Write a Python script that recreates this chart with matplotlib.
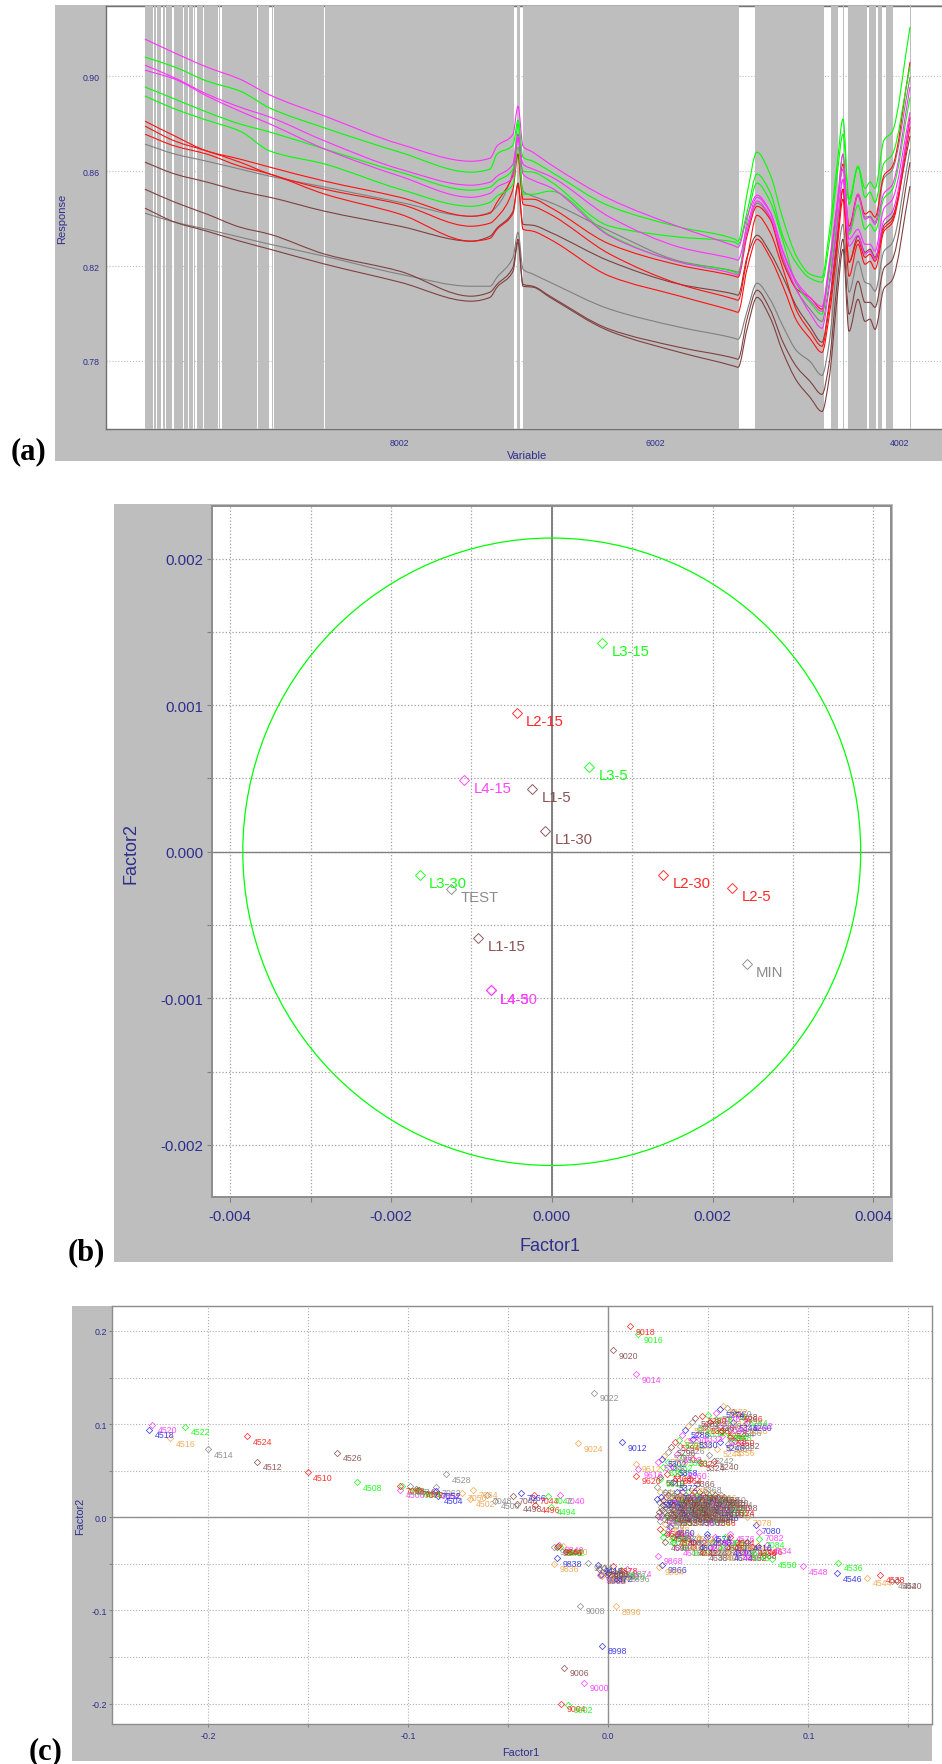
import matplotlib
matplotlib.use("Agg")
import numpy as np
import matplotlib.pyplot as plt
from matplotlib.patches import Rectangle, Ellipse, PathPatch
from matplotlib.path import Path

plt.rcParams['font.family'] = ['Liberation Sans', 'DejaVu Sans']

W, H = 942, 1765
NAVY = '#2E2E8E'
PANEL = '#BEBEBE'
GREEN, RED, BROWN, GRAY, ORANGE, BLUE, MAGENTA = '#00FF00', '#FF1010', '#804040', '#808080', '#F0A040', '#2020E0', '#FF30FF'

# ---------- panel (a): spectra ----------
CHANNELS = [145,175,207,240,270,325,400,471,490,497,513,518,523,533,550,610,680,735,738,747,757,770,783,797,810,822,829,837,843,849,858,865,870,875,884,892,910]
M1 = [.9157,.9098,.9039,.8988,.8921,.8832,.8714,.8642,.8655,.8706,.8756,.8874,.8706,.8680,.8630,.8482,.8364,.8284,.8279,.8406,.8499,.8431,.8263,.8132,.8068,.8030,.8208,.8461,.8672,.8347,.8503,.8398,.8406,.8376,.8507,.8541,.8955]
G1 = [.9081,.9039,.8980,.8938,.8866,.8782,.8680,.8596,.8609,.8672,.8710,.8815,.8659,.8642,.8600,.8452,.8364,.8313,.8305,.8503,.8680,.8588,.8398,.8237,.8166,.8153,.8334,.8621,.8820,.8482,.8621,.8528,.8554,.8528,.8731,.8765,.9208]
M2 = [.9047,.8993,.8925,.8870,.8828,.8727,.8609,.8541,.8554,.8579,.8630,.8756,.8630,.8609,.8579,.8406,.8279,.8229,.8225,.8368,.8490,.8427,.8258,.8123,.8056,.8009,.8187,.8431,.8609,.8313,.8355,.8292,.8292,.8263,.8444,.8478,.8849]
M3 = [.9026,.8988,.8917,.8853,.8799,.8693,.8579,.8490,.8507,.8533,.8575,.8735,.8588,.8562,.8533,.8326,.8216,.8166,.8161,.8347,.8474,.8410,.8237,.8098,.8001,.7938,.8102,.8355,.8566,.8284,.8330,.8250,.8263,.8229,.8393,.8427,.8811]
G2 = [.8955,.8904,.8849,.8799,.8765,.8693,.8596,.8520,.8533,.8558,.8609,.8799,.8600,.8596,.8558,.8368,.8322,.8301,.8292,.8427,.8588,.8512,.8326,.8208,.8149,.8132,.8292,.8579,.8756,.8461,.8617,.8490,.8512,.8469,.8634,.8668,.9043]
G3 = [.8917,.8862,.8815,.8769,.8685,.8630,.8524,.8452,.8469,.8495,.8545,.8701,.8503,.8503,.8516,.8330,.8216,.8174,.8166,.8389,.8550,.8474,.8305,.8119,.8047,.7997,.8166,.8419,.8672,.8334,.8457,.8355,.8376,.8347,.8486,.8520,.8912]
R1 = [.8811,.8748,.8685,.8651,.8617,.8558,.8490,.8410,.8423,.8469,.8583,.8672,.8482,.8482,.8448,.8292,.8203,.8157,.8153,.8326,.8452,.8398,.8216,.8102,.8068,.8018,.8187,.8452,.8630,.8368,.8503,.8419,.8431,.8406,.8583,.8617,.9060]
R2 = [.8790,.8727,.8685,.8638,.8588,.8524,.8461,.8368,.8381,.8406,.8524,.8672,.8461,.8452,.8419,.8250,.8123,.8060,.8056,.8229,.8414,.8343,.8187,.8009,.7925,.7862,.8018,.8292,.8524,.8216,.8309,.8237,.8250,.8220,.8360,.8393,.8828]
R3 = [.8756,.8706,.8672,.8621,.8588,.8503,.8419,.8305,.8317,.8355,.8423,.8541,.8355,.8347,.8313,.8157,.8073,.8009,.8005,.8187,.8313,.8237,.8115,.7967,.7895,.7836,.7984,.8263,.8482,.8157,.8292,.8208,.8220,.8187,.8347,.8381,.8786]
GY1 = [.8714,.8672,.8642,.8609,.8579,.8533,.8469,.8410,.8427,.8452,.8600,.8744,.8516,.8495,.8469,.8347,.8220,.8178,.8174,.8343,.8465,.8406,.8229,.8094,.8018,.7967,.8123,.8376,.8566,.8355,.8495,.8406,.8410,.8385,.8571,.8604,.8997]
BR1 = [.8638,.8588,.8554,.8516,.8490,.8431,.8368,.8305,.8326,.8360,.8431,.8550,.8376,.8372,.8343,.8220,.8123,.8081,.8077,.8237,.8330,.8258,.8153,.8026,.7946,.7879,.8039,.8313,.8524,.8216,.8326,.8258,.8271,.8237,.8372,.8406,.8748]
GY2 = [.8423,.8385,.8355,.8322,.8292,.8241,.8166,.8115,.8115,.8153,.8237,.8343,.8187,.8166,.8132,.8018,.7942,.7895,.7891,.8009,.8128,.8060,.7946,.7841,.7798,.7739,.7870,.8208,.8376,.8090,.8220,.8132,.8123,.8094,.8263,.8296,.8693]
BR2 = [.8524,.8469,.8419,.8364,.8334,.8250,.8178,.8073,.8090,.8123,.8195,.8313,.8123,.8115,.8073,.7933,.7857,.7811,.7807,.7976,.8098,.8018,.7879,.7773,.7714,.7659,.7786,.8123,.8313,.7997,.8136,.8047,.8047,.8026,.8191,.8225,.8638]
BR3 = [.8444,.8385,.8347,.8305,.8271,.8208,.8132,.8052,.8068,.8111,.8178,.8301,.8115,.8111,.8068,.7925,.7836,.7777,.7773,.7933,.8068,.7984,.7836,.7714,.7647,.7587,.7722,.8060,.8271,.7925,.8060,.7967,.7976,.7933,.8106,.8140,.8537]
SPECTRA = [(GY2, GRAY), (BR3, BROWN), (BR2, BROWN), (BR1, BROWN), (GY1, GRAY), (R3, RED), (R2, RED), (R1, RED),
           (G3, GREEN), (G2, GREEN), (M3, MAGENTA), (M2, MAGENTA), (G1, GREEN), (M1, MAGENTA)]
VAR_TICKS = [399, 655, 900]
VAR_LABELS = ['8002', '6002', '4002']
RESP_TICKS = [0.78, 0.82, 0.86, 0.90]
BAND_START, BAND_END = 145, 911
STRIPES = [(153,154.3),(156,157),(161.3,162.7),(165,166),(172,173.7),(183.3,184),(188.3,189.3),(193,194),(195,196.7),
           (203.3,204),(211.7,212.3),(218,219.3),(220,222),(257.3,258),(269,271.7),(272.7,274),(287.5,288.3),(324.3,325),
           (514.3,516.7),(520.3,523),(739.3,755),(823.7,831.3),(838.3,842.7),(844.3,847.7),(867,868.7),(876,878.3),(882,886),(892.7,909.7)]

# ---------- panel (b): loadings ----------
B_NAMES = ['L3-15','L2-15','L3-5','L4-15','L1-5','L1-30','L3-30','TEST','L2-30','L2-5','L1-15','MIN','L4-5','L4-30']
B_X = [.000630,-.000435,.000464,-.00109,-.000245,-.000083,-.00164,-.00125,.001384,.002247,-.000913,.002425,-.000759,-.000759]
B_Y = [.001426,.00095,.000581,.000487,.000428,.000143,-.000157,-.000254,-.000157,-.000247,-.000588,-.000765,-.000946,-.000946]
B_COLORS = [GREEN,RED,GREEN,MAGENTA,BROWN,BROWN,GREEN,GRAY,RED,RED,BROWN,GRAY,MAGENTA,MAGENTA]
ELLIPSE_SEMI_X, ELLIPSE_SEMI_Y = 0.003843, 0.00214

# ---------- panel (c): scores ----------
CYCLE = [GREEN, RED, BROWN, GRAY, ORANGE, BLUE, MAGENTA]
OUT_IDS = [4520,4518,4522,4516,4514,4524,4512,4510,4526,4508,4528,4506,7056,7058,7034,7060,7070,7072,7054,7062,4504,7052,
           7064,7050,4502,4500,7048,7046,7066,4498,4496,7044,7042,7040,4494,
           9018,9016,9020,9014,9022,9012,9024,4536,4546,4548,4550,4544,4538,4542,4540,7076,7078,7080,7082,7084,7086,4534,4552,7088,
           9868,9866,9864,9838,9836,9848,9840,9850,9846,9842,9844,9834,9418,8878,8874,8876,8882,8896,9908,9910,9906,9904,8870,8872,8868,8880,8866,
           8996,9008,8998,9006,9000,9004,9002,9612,9616,9620,9618]
OUT_X = [-.2280,-.2295,-.2117,-.2191,-.2000,-.1806,-.1755,-.1503,-.1357,-.1256,-.0811,-.1040,-.1032,-.1042,-.0990,-.0961,-.0953,-.0945,-.0869,-.0863,-.0853,-.0861,
         -.0675,-.0733,-.0693,-.0566,-.0605,-.0475,-.0436,-.0458,-.0366,-.0370,-.0300,-.0242,-.0288,
         .0108,.0150,.0024,.0138,-.0071,.0067,-.0150,.1150,.1145,.0973,.0816,.1293,.1358,.1416,.1441,.0608,.0692,.0737,.0753,.0755,.0747,.0791,.0667,.0717,
         .0248,.0267,.0254,-.0255,-.0273,-.0270,-.0245,-.0225,-.0255,-.0240,-.0250,-.0100,-.0053,.0022,.0092,.0062,.0035,.0082,-.0036,-.0042,-.0030,-.0038,-.0010,.0000,.0015,-.0045,-.0020,
         .0038,-.0143,-.0033,-.0222,-.0122,-.0238,-.0203,.0138,.0150,.0138,.0258]
OUT_Y = [.0991,.0941,.0973,.0848,.0730,.0869,.0597,.0483,.0694,.0376,.0464,.0297,.0333,.0340,.0333,.0304,.0293,.0293,.0286,.0322,.0232,.0286,
         .0296,.0261,.0197,.0178,.0239,.0232,.0264,.0143,.0135,.0239,.0232,.0239,.0114,
         .2049,.1966,.1795,.1534,.1337,.0807,.0797,-.0490,-.0601,-.0526,-.0448,-.0651,-.0616,-.0680,-.0680,.0082,.0000,-.0083,-.0162,-.0234,-.0312,-.0298,-.0376,-.0358,
         -.0412,-.0509,-.0530,-.0440,-.0498,-.0315,-.0297,-.0312,-.0322,-.0320,-.0310,-.0490,-.0512,-.0519,-.0554,-.0570,-.0585,-.0608,-.0622,-.0615,-.0628,-.0610,-.0590,-.0600,-.0565,-.0560,-.0545,
         -.0955,-.0948,-.1377,-.1617,-.1778,-.2000,-.2010,.0572,.0518,.0447,.0411]
LOOP_START_ID = 5240
LOOP_X = [.0528,.0505,.0542,.0558,.0567,.0563,.0567,.0608,.0642,.0675,.0692,.0700,.0675,.0650,.0625,.0595,.0575,.0558,.0538,.0500,.0467,.0433,.0417,.0400,.0383,.0367,.0355,.0333,.0312,.0300,.0278,.0267,.0250,.0275,.0292,.0258,.0242,.0258,.0242,
          .0342,.0375,.0425,.0458,.0358,.0392,.0425,.0450,.0458,.0483,.0508,.0542,.0592,.0625,.0575,.0595,.0608,.0633,.0600,.0608,.0325,.0367,.0300,.0342,.0408,.0442,.0375,.0325]
LOOP_Y = [.0604,.0668,.0733,.0805,.0869,.0912,.0930,.0948,.0965,.0983,.1012,.1037,.1073,.1109,.1134,.1169,.1191,.1162,.1119,.1098,.1091,.1062,.1019,.0983,.0940,.0883,.0833,.0805,.0751,.0697,.0654,.0626,.0590,.0536,.0465,.0429,.0322,.0268,.0196,
          .0679,.0643,.0626,.0590,.0769,.0822,.0840,.0894,.0948,.0983,.1019,.1037,.1055,.1019,.1001,.0912,.0858,.0822,.0787,.0751,.0536,.0500,.0590,.0447,.0411,.0357,.0339,.0375]
ARM_START_ID = 4554
ARM_ROWS = {
    .0018: [.0250], -.0036: [.0258], -.0072: [.0283], -.0107: [.0308], -.0143: [.0300], -.0161: [.0275], -.0125: [.0258],
    -.0179: [.0292,.0342,.0408,.0492,.0608],
    -.0215: [.0275,.0325,.0367,.0408,.0450,.0492,.0533,.0583,.0608],
    -.0269: [.0283,.0325,.0375,.0425,.0475,.0517,.0558,.0600,.0642,.0667,.0692],
    -.0322: [.0342,.0383,.0425,.0467,.0508,.0550,.0592,.0633,.0675,.0717],
    -.0376: [.0475,.0517,.0558,.0600,.0642,.0683],
}
BLOB_START_ID = 7230
BLOB_ROWS = {
    .0268: [.0283,.0310,.0345,.0370,.0400,.0428,.0455,.0490,.0520],
    .0214: [.0262,.0290,.0318,.0342,.0375,.0398,.0430,.0458,.0482,.0515,.0548,.0580],
    .0161: [.0255,.0282,.0308,.0335,.0360,.0388,.0412,.0440,.0465,.0495,.0520,.0552,.0590,.0625],
    .0107: [.0262,.0288,.0315,.0345,.0368,.0395,.0420,.0450,.0478,.0505,.0535,.0570,.0610],
    .0053: [.0255,.0280,.0310,.0335,.0362,.0385,.0415,.0442,.0470,.0500,.0528],
    .0000: [.0265,.0295,.0325,.0350,.0380,.0405,.0435,.0460,.0490,.0515],
}
# points drawn last in the blob: their labels are the brown and gray ones on top
BLOB_TOP_BROWN_START, BLOB_TOP_GRAY_START, BLOB_TOP_STEP = 7102, 7104, 14
BLOB_TOP_ROWS = {
    .0241: [.0300,.0330,.0360,.0390,.0420,.0445,.0475,.0505,.0535,.0565],
    .0188: [.0275,.0305,.0330,.0362,.0390,.0420,.0445,.0470,.0500,.0535,.0565,.0600],
    .0134: [.0272,.0298,.0325,.0350,.0378,.0400,.0430,.0455,.0485,.0510,.0540,.0575],
    .0080: [.0270,.0300,.0328,.0355,.0380,.0408,.0435,.0462,.0492,.0520,.0555],
    .0027: [.0268,.0292,.0322,.0350,.0375,.0400,.0428,.0455,.0485,.0512],
}


def box(x0, y0, x1, y1):
    return [x0 / W, 1 - y1 / H, (x1 - x0) / W, (y1 - y0) / H]


def ftext(x, y, s, **kw):
    kw.setdefault('ha', 'center')
    kw.setdefault('va', 'center')
    fig.text(x / W, 1 - y / H, s, **kw)


def panel(x0, y0, x1, y1):
    fig.add_artist(Rectangle((x0 / W, 1 - y1 / H), (x1 - x0) / W, (y1 - y0) / H,
                             transform=fig.transFigure, facecolor=PANEL, edgecolor='none', zorder=-5))


def curve_through(x, y):
    """Bezier path through the read values, with slopes limited so that peaks stay where they were read."""
    x = np.asarray(x, float)
    y = np.asarray(y, float)
    h = np.diff(x)
    s = np.diff(y) / h
    m = np.zeros_like(x)
    m[0], m[-1] = s[0], s[-1]
    for i in range(1, len(x) - 1):
        if s[i - 1] * s[i] > 0:
            w1, w2 = 2 * h[i] + h[i - 1], h[i] + 2 * h[i - 1]
            m[i] = (w1 + w2) / (w1 / s[i - 1] + w2 / s[i])
    verts = [(x[0], y[0])]
    codes = [Path.MOVETO]
    for i in range(len(h)):
        verts += [(x[i] + h[i] / 3, y[i] + m[i] * h[i] / 3),
                  (x[i + 1] - h[i] / 3, y[i + 1] - m[i + 1] * h[i] / 3),
                  (x[i + 1], y[i + 1])]
        codes += [Path.CURVE4] * 3
    return Path(verts, codes)


fig = plt.figure(figsize=(W / 100, H / 100), dpi=100, facecolor='white')

# ----- (a) -----
panel(55, 6, 942, 462)
axa = fig.add_axes(box(106, 7.3, 942, 430))
axa.set_xlim(106, 942)
axa.set_ylim(0.7513, 0.92954)
edges = [BAND_START] + [e for s in STRIPES for e in s] + [BAND_END]
for a, b in zip(edges[0::2], edges[1::2]):
    axa.axvspan(a, b, facecolor=PANEL, edgecolor='none', zorder=3)
for vals, col in SPECTRA:
    axa.add_patch(PathPatch(curve_through(CHANNELS, vals), fill=False, edgecolor=col, lw=0.8, zorder=4))
axa.set_yticks(RESP_TICKS, [f'{v:.2f}' for v in RESP_TICKS])
axa.set_xticks(VAR_TICKS, VAR_LABELS)
axa.tick_params(axis='both', length=0, labelsize=6.3, labelcolor=NAVY)
axa.tick_params(axis='y', pad=4.3)
axa.tick_params(axis='x', pad=6.3)
axa.yaxis.grid(True, color=PANEL, ls=':', lw=0.8, zorder=1)
axa.set_axisbelow(True)
for side, sp in axa.spines.items():
    sp.set_color('#707070')
    sp.set_linewidth(1.0)
axa.spines['right'].set_visible(False)
ftext(62, 219, 'Response', rotation=90, fontsize=8, color=NAVY)
ftext(527, 456, 'Variable', fontsize=8, color=NAVY)
ftext(28, 452, '(a)', fontsize=22, fontweight='bold', family=['Liberation Serif'], color='black')

# ----- (b) -----
panel(114, 505.3, 892.7, 1263)
axb = fig.add_axes(box(211.7, 506.8, 891, 1198))
axb.set_xlim(-0.00423, 0.00422)
axb.set_ylim(-0.002355, 0.00236)
axb.set_xticks([-.004, -.003, -.002, -.001, 0, .001, .002, .003, .004],
               ['-0.004', '', '-0.002', '', '0.000', '', '0.002', '', '0.004'])
axb.set_yticks([-.002, -.0015, -.001, -.0005, 0, .0005, .001, .0015, .002],
               ['-0.002', '', '-0.001', '', '0.000', '', '0.001', '', '0.002'])
axb.tick_params(axis='both', length=3.6, width=0.8, color='#808080', labelsize=10.8, labelcolor=NAVY)
axb.tick_params(axis='y', pad=2.5)
axb.tick_params(axis='x', pad=5.0)
axb.grid(True, color='#A0A0A0', ls=':', lw=0.9)
axb.set_axisbelow(True)
axb.axhline(0, color='#808080', lw=1.0, zorder=1.5)
axb.axvline(0, color='#808080', lw=1.4, zorder=1.5)
axb.add_patch(Ellipse((0, 0), 2 * ELLIPSE_SEMI_X, 2 * ELLIPSE_SEMI_Y, fill=False, edgecolor=GREEN, lw=0.9, zorder=2))
for name, x, y, c in zip(B_NAMES, B_X, B_Y, B_COLORS):
    axb.plot([x], [y], marker='D', ms=5, mfc='none', mec=c, mew=0.7, ls='none', alpha=0.85, zorder=3)
    axb.annotate(name, (x, y), xytext=(6.7, -5.8), textcoords='offset points', ha='left', va='center',
                 fontsize=10.7, color=c, alpha=0.9, zorder=4)
for sp in axb.spines.values():
    sp.set_color('#8C8C8C')
    sp.set_linewidth(1.4)
ftext(131, 853, 'Factor2', rotation=90, fontsize=13, color=NAVY)
ftext(550, 1247, 'Factor1', fontsize=13, color=NAVY)
ftext(86, 1253, '(b)', fontsize=22, fontweight='bold', family=['Liberation Serif'], color='black')

# ----- (c) -----
panel(72, 1307, 931.7, 1761.7)
axc = fig.add_axes(box(111.7, 1307.3, 931.7, 1725))
axc.set_xlim(-0.2482, 0.1616)
axc.set_ylim(-0.2218, 0.2264)
axc.set_xticks([-.2, -.15, -.1, -.05, 0, .05, .1, .15], ['-0.2', '', '-0.1', '', '0.0', '', '0.1', ''])
axc.set_yticks([-.2, -.15, -.1, -.05, 0, .05, .1, .15, .2], ['-0.2', '', '-0.1', '', '0.0', '', '0.1', '', '0.2'])
axc.tick_params(axis='both', length=2, width=0.7, color='#808080', labelsize=6.4, labelcolor=NAVY)
axc.tick_params(axis='y', pad=1.4)
axc.tick_params(axis='x', pad=3.4)
axc.grid(True, color='#B0B0B0', ls=':', lw=0.8)
axc.set_axisbelow(True)
axc.axhline(0, color='#909090', lw=1.0, zorder=1.5)
axc.axvline(0, color='#909090', lw=1.0, zorder=1.5)

ids = list(OUT_IDS)
xs = list(OUT_X)
ys = list(OUT_Y)
for i, (x, y) in enumerate(zip(LOOP_X, LOOP_Y)):
    ids.append(LOOP_START_ID + 2 * i)
    xs.append(x)
    ys.append(y)
n = 0
for y, row in ARM_ROWS.items():
    for x in row:
        ids.append(ARM_START_ID + 2 * n)
        xs.append(x)
        ys.append(y)
        n += 1
n = 0
for y, row in BLOB_ROWS.items():
    for x in row:
        ids.append(BLOB_START_ID + 2 * n)
        xs.append(x)
        ys.append(y)
        n += 1
n = 0
for y, row in BLOB_TOP_ROWS.items():
    for x in row:
        start = BLOB_TOP_BROWN_START if n % 2 == 0 else BLOB_TOP_GRAY_START
        ids.append(start + BLOB_TOP_STEP * (n // 2))
        xs.append(x)
        ys.append(y)
        n += 1
for i, x, y in zip(ids, xs, ys):
    c = CYCLE[(i // 2) % 7]
    axc.plot([x], [y], marker='D', ms=3.2, mfc='none', mec=c, mew=0.55, ls='none', alpha=0.85, zorder=3)
    axc.annotate(str(i), (x, y), xytext=(4.1, -3.6), textcoords='offset points', ha='left', va='center',
                 fontsize=6.3, color=c, alpha=0.85, zorder=4)
for sp in axc.spines.values():
    sp.set_color('#8C8C8C')
    sp.set_linewidth(1.0)
ftext(80, 1516.7, 'Factor2', rotation=90, fontsize=7.8, color=NAVY)
ftext(521, 1752.7, 'Factor1', fontsize=7.8, color=NAVY)
ftext(46, 1751.7, '(c)', fontsize=22, fontweight='bold', family=['Liberation Serif'], color='black')

fig.savefig('out.png', dpi=100)
